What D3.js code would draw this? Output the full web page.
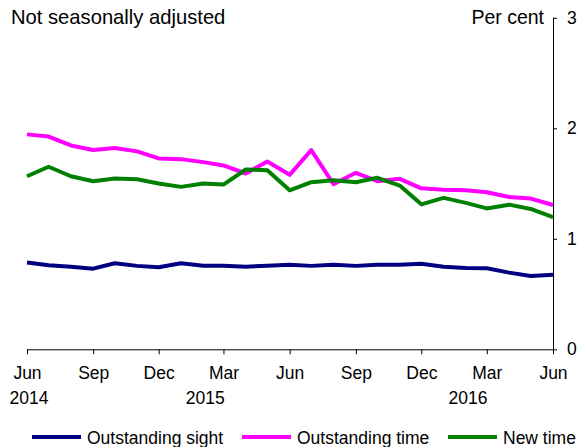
<!DOCTYPE html>
<html><head><meta charset="utf-8">
<script src="https://cdn.jsdelivr.net/npm/d3@7"></script>
<style>
html,body{margin:0;padding:0;background:#fff;}
svg{display:block;font-family:"Liberation Sans",Arial,sans-serif;}
</style></head>
<body>
<svg id="chart" width="579" height="447"></svg>
<script>
// Months from Jun 2014 to Jun 2016
const months = ["2014-06","2014-07","2014-08","2014-09","2014-10","2014-11","2014-12",
  "2015-01","2015-02","2015-03","2015-04","2015-05","2015-06","2015-07","2015-08","2015-09",
  "2015-10","2015-11","2015-12","2016-01","2016-02","2016-03","2016-04","2016-05","2016-06"];
const outstandingSight = [0.785,0.761,0.748,0.730,0.779,0.755,0.743,0.779,0.757,0.757,0.748,0.757,0.766,
  0.755,0.766,0.755,0.766,0.766,0.775,0.748,0.736,0.734,0.694,0.664,0.675];
const outstandingTime = [1.945,1.925,1.845,1.803,1.821,1.791,1.727,1.721,1.694,1.664,1.591,1.700,1.579,
  1.803,1.494,1.597,1.521,1.543,1.457,1.443,1.439,1.421,1.379,1.364,1.306];
const newTime = [1.566,1.652,1.566,1.521,1.545,1.539,1.500,1.470,1.500,1.491,1.627,1.621,1.439,
  1.512,1.530,1.512,1.552,1.482,1.312,1.370,1.325,1.275,1.309,1.270,1.197];
const seriesNames = ["Outstanding sight","Outstanding time","New time"];
const seriesColors = ["#000080","#ff00ff","#008000"];
const monthTickLabels = ["Jun","Sep","Dec","Mar","Jun","Sep","Dec","Mar","Jun"];
const yearLabels = [{label:"2014", month:"2014-06"},{label:"2015", month:"2015-02"},{label:"2016", month:"2016-02"}];
const yTicks = [0,1,2,3];
const subtitle = "Not seasonally adjusted";
const unitLabel = "Per cent";

const parse = d3.timeParse("%Y-%m");
const dates = months.map(parse);
const svg = d3.select("#chart");

const x = d3.scaleTime().domain([dates[0], dates[dates.length-1]]).range([27, 553]);
const y = d3.scaleLinear().domain([0,3]).range([349.3, 17.8]);

// Axes
const tickDates = dates.filter((d,i)=> i % 3 === 0);
const xAxis = d3.axisBottom(x).tickValues(tickDates).tickSize(5)
  .tickFormat((d,i)=> monthTickLabels[i]);
const gx = svg.append("g").attr("transform", `translate(0,${y(0)})`).call(xAxis);
gx.select(".domain").attr("stroke","#000").attr("d", `M${x(dates[0])},0.5H${x(dates[dates.length-1])}`);
gx.selectAll(".tick line").attr("stroke","#000");
gx.selectAll(".tick text").attr("fill","#000").style("font-size","17.5px").attr("y", 17).attr("dy","0.71em");

// Year labels
svg.append("g").selectAll("text").data(yearLabels).join("text")
  .attr("x", d=> x(parse(d.month)) + 2)
  .attr("y", 403.5)
  .attr("text-anchor","middle")
  .style("font-size","17.5px")
  .text(d=> d.label);

const yAxis = d3.axisRight(y).tickValues(yTicks).tickSize(4).tickPadding(10).tickFormat(d3.format("d"));
const gy = svg.append("g").attr("transform", `translate(553,0)`).call(yAxis);
gy.select(".domain").attr("stroke","#000").attr("d", `M0.5,${y(3)}V${y(0)}`);
gy.selectAll(".tick line").attr("stroke","#000");
gy.selectAll(".tick text").attr("fill","#000").style("font-size","17.5px");

// Lines
const allSeries = [outstandingSight, outstandingTime, newTime];
const line = d3.line().x((d,i)=> x(dates[i])).y(d=> y(d));
svg.append("g").selectAll("path").data(allSeries).join("path")
  .attr("d", d=> line(d))
  .attr("fill","none")
  .attr("stroke", (d,i)=> seriesColors[i])
  .attr("stroke-width", 4)
  .attr("stroke-linejoin","round");

// Titles
svg.append("text").attr("x", 11).attr("y", 24).style("font-size","20.2px").text(subtitle);
svg.append("text").attr("x", 544).attr("y", 23.5).attr("text-anchor","end").style("font-size","19.5px").text(unitLabel);

// Legend
const legendX = [32, 242, 448];
const lg = svg.append("g").selectAll("g").data(seriesNames).join("g")
  .attr("transform", (d,i)=> `translate(${legendX[i]},437)`);
lg.append("line").attr("x1",0).attr("x2",49).attr("y1",0).attr("y2",0)
  .attr("stroke",(d,i)=> seriesColors[i]).attr("stroke-width",4);
lg.append("text").attr("x",55).attr("y",6.5).style("font-size","17.5px").text(d=>d);
</script>
</body></html>
